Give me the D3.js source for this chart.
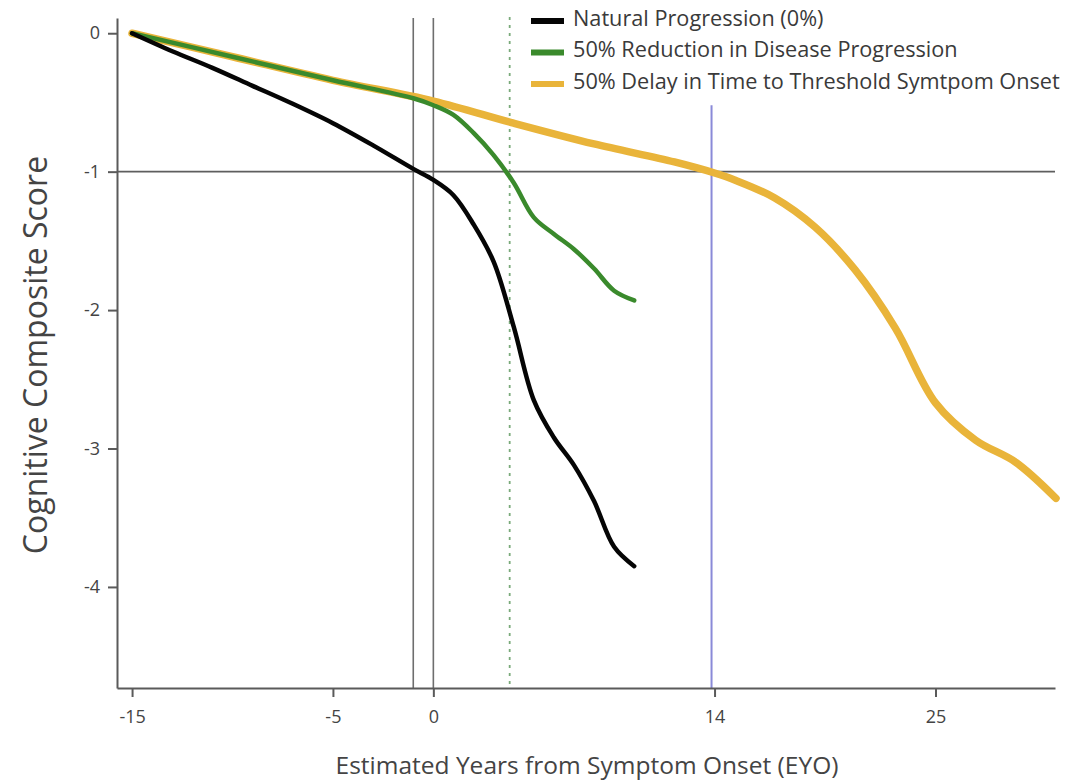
<!DOCTYPE html>
<html><head><meta charset="utf-8">
<script src="https://cdn.jsdelivr.net/npm/d3@7"></script>
<style>body{margin:0;background:#fff}svg{display:block;font-family:"Open Sans",sans-serif}</style>
</head><body><svg id="c" width="1088" height="780"></svg>
<script>
// Data
const naturalX = [-15,-13,-11,-9,-7,-5,-3,-1,0,1,2,3,4,5,6,7,8,9,10];
const naturalY = [0,-0.13,-0.25,-0.38,-0.51,-0.65,-0.81,-0.98,-1.06,-1.17,-1.38,-1.65,-2.12,-2.65,-2.92,-3.12,-3.38,-3.71,-3.85];
const reductionX = [-15,-10,-5,-1,0,1,2,3,4,5,6,7,8,9,10];
const reductionY = [0,-0.17,-0.34,-0.47,-0.52,-0.59,-0.72,-0.88,-1.08,-1.33,-1.45,-1.56,-1.7,-1.86,-1.93];
const delayX = [-15,-10,-5,0,4,8,12,14,15,17,19,21,23,25,27,29,31];
const delayY = [0,-0.17,-0.34,-0.49,-0.65,-0.8,-0.93,-1.01,-1.06,-1.19,-1.4,-1.71,-2.13,-2.67,-2.94,-3.1,-3.36];
const seriesNames = ["Natural Progression (0%)","50% Reduction in Disease Progression","50% Delay in Time to Threshold Symtpom Onset"];
const xTicks = [-15,-5,0,14,25];
const yTicks = [0,-1,-2,-3,-4];
const grayVLines = [-1,0];
const greenDashX = 3.8;
const blueVLineX = 13.85;
const blueVLineTop = -0.52;
const thresholdY = -1;

const svg = d3.select("#c");
const x = d3.scaleLinear().domain([-15.75, 30.95]).range([117, 1055]);
const y = d3.scaleLinear().domain([0.11, -4.73]).range([18, 688]);

// reference lines
svg.selectAll("line.gv").data(grayVLines).join("line")
  .attr("x1", d=>x(d)).attr("x2", d=>x(d)).attr("y1", 18).attr("y2", y(-4.73))
  .attr("stroke", "#6e6e6e").attr("stroke-width", 1.6);
svg.append("line").attr("x1", x(greenDashX)).attr("x2", x(greenDashX)).attr("y1", 17).attr("y2", y(-4.73))
  .attr("stroke", "#7aaa7a").attr("stroke-width", 1.8).attr("stroke-dasharray", "3,5");
svg.append("line").attr("x1", x(blueVLineX)).attr("x2", x(blueVLineX)).attr("y1", y(blueVLineTop)).attr("y2", y(-4.73))
  .attr("stroke", "#8a8ad8").attr("stroke-width", 2);
svg.append("line").attr("x1", x(-15.75)).attr("x2", x(30.95)).attr("y1", y(thresholdY)).attr("y2", y(thresholdY))
  .attr("stroke", "#5e5e5e").attr("stroke-width", 1.8);

// axes
const fmt = d => String(d);
const gx = svg.append("g").attr("transform", `translate(0,${y(-4.73)})`)
  .call(d3.axisBottom(x).tickValues(xTicks).tickFormat(fmt).tickSize(9).tickPadding(13).tickSizeOuter(0));
const gy = svg.append("g").attr("transform", `translate(${x(-15.75)},0)`)
  .call(d3.axisLeft(y).tickValues(yTicks).tickFormat(fmt).tickSize(9).tickPadding(8).tickSizeOuter(0));
[gx, gy].forEach(g => {
  g.select(".domain").attr("stroke", "#5a5a5a").attr("stroke-width", 2);
  g.selectAll(".tick line").attr("stroke", "#5a5a5a").attr("stroke-width", 2);
  g.selectAll(".tick text").attr("fill", "#444").style("font-size", "18px").style("font-family", "'Open Sans',sans-serif");
});

// series
const line = d3.line().x(d=>x(d[0])).y(d=>y(d[1])).curve(d3.curveCatmullRom.alpha(0.5));
const delay = delayX.map((v,i)=>[v, delayY[i]]);
const reduction = reductionX.map((v,i)=>[v, reductionY[i]]);
const natural = naturalX.map((v,i)=>[v, naturalY[i]]);
svg.append("path").datum(delay).attr("d", line).attr("fill","none").attr("stroke","#e9b43a").attr("stroke-width",7.5).attr("stroke-linejoin","round").attr("stroke-linecap","round");
svg.append("path").datum(reduction).attr("d", line).attr("fill","none").attr("stroke","#3a8a2c").attr("stroke-width",4.5).attr("stroke-linejoin","round").attr("stroke-linecap","round");
svg.append("path").datum(natural).attr("d", line).attr("fill","none").attr("stroke","#050505").attr("stroke-width",4.5).attr("stroke-linejoin","round").attr("stroke-linecap","round");

// legend
const colors = ["#050505","#3a8a2c","#e9b43a"];
const lg = svg.append("g");
seriesNames.forEach((n,i)=>{
  const cy = 18 + i*31.5;
  lg.append("line").attr("x1",531).attr("x2",564).attr("y1",cy+3).attr("y2",cy+3).attr("stroke",colors[i]).attr("stroke-width",6);
  lg.append("text").attr("x",573).attr("y",cy).attr("dy","0.35em").text(n)
    .attr("fill","#3a3a3a").style("font-size","21.7px");
});

// axis titles
svg.append("text").attr("x", 587).attr("y", 774).attr("text-anchor","middle")
  .attr("fill","#444").style("font-size","24.5px").text("Estimated Years from Symptom Onset (EYO)");
svg.append("text").attr("transform","translate(47,355) rotate(-90)").attr("text-anchor","middle")
  .attr("fill","#444").style("font-size","32px").text("Cognitive Composite Score");
</script></body></html>
